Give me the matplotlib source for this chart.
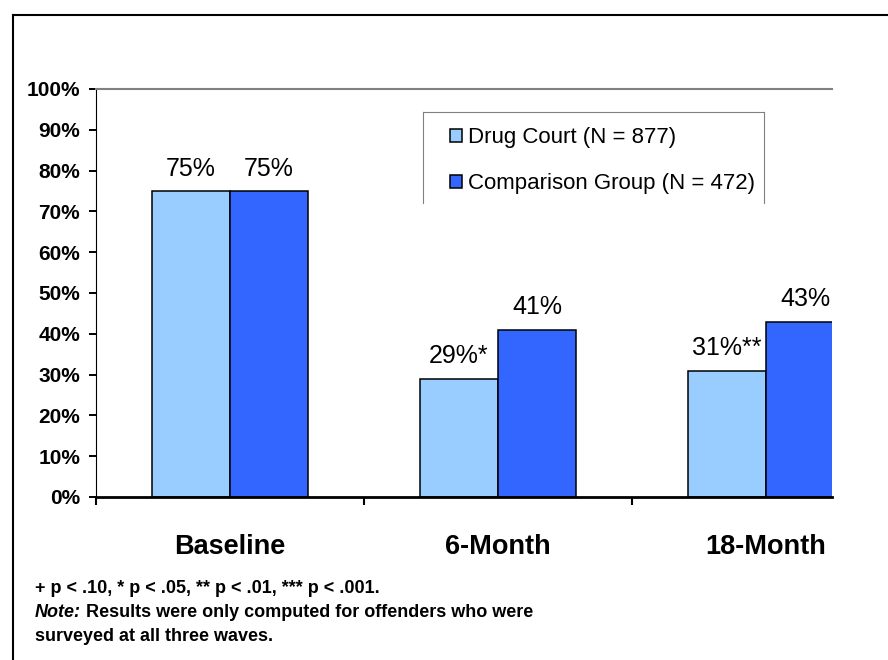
import matplotlib
matplotlib.use("Agg")
import matplotlib.pyplot as plt
from matplotlib.lines import Line2D
import numpy as np

plt.rcParams['font.family'] = ['Liberation Sans', 'DejaVu Sans']

# Data
waves = ["Baseline", "6-Month", "18-Month"]
drug_court = [75, 29, 31]
comparison = [75, 41, 43]
significance = ["", "*", "**"]
series_names = ["Drug Court (N = 877)", "Comparison Group (N = 472)"]
y_ticks = [0, 10, 20, 30, 40, 50, 60, 70, 80, 90, 100]
footnotes = [
    "+ p < .10, * p < .05, ** p < .01, *** p < .001.",
    "Note:",
    "Results were only computed for offenders who were",
    "surveyed at all three waves.",
]

W, H = 888, 660
fig = plt.figure(figsize=(W / 100, H / 100), dpi=100)
fig.patch.set_facecolor("white")


def fx(px):
    return px / W


def fy(py):
    return 1 - py / H


# Plot area
ax = fig.add_axes([fx(96), fy(497), fx(832 - 96), (497 - 89) / H])

light = "#99CCFF"
dark = "#3366FF"
bw = 0.291
x = np.arange(len(waves))

b1 = ax.bar(x - bw / 2, drug_court, bw, color=light, edgecolor="black", linewidth=1.1, zorder=2)
b2 = ax.bar(x + bw / 2, comparison, bw, color=dark, edgecolor="black", linewidth=1.1, zorder=2)

for xi, v, s in zip(x, drug_court, significance):
    ax.annotate(f"{v}%{s}", (xi - bw / 2, v), xytext=(0, 11), textcoords="offset points",
                ha="center", va="baseline", fontsize=18, annotation_clip=False)
for xi, v in zip(x, comparison):
    ax.annotate(f"{v}%", (xi + bw / 2, v), xytext=(0, 11), textcoords="offset points",
                ha="center", va="baseline", fontsize=18, annotation_clip=False)

ax.set_xlim(-0.5, 2.246)
ax.set_ylim(0, 100)

ax.set_yticks(y_ticks)
ax.set_yticklabels([f"{t}%" for t in y_ticks], fontsize=15, fontweight="bold")
ax.tick_params(axis="y", direction="out", length=5, width=1.4, color="black", pad=6.5)

ax.set_xticks(x)
ax.set_xticklabels(waves, fontsize=19.5, fontweight="bold")
ax.set_xticks([-0.5, 0.5, 1.5], minor=True)
ax.tick_params(axis="x", which="major", length=0, pad=27)
ax.tick_params(axis="x", which="minor", direction="out", length=6, width=1.5, color="black")

ax.spines["right"].set_visible(False)
ax.spines["top"].set_color("#808080")
ax.spines["top"].set_linewidth(1.5)
ax.spines["left"].set_color("black")
ax.spines["left"].set_linewidth(0.8)
ax.spines["bottom"].set_color("black")
ax.spines["bottom"].set_linewidth(2.0)
ax.spines["bottom"].set_zorder(3)

# Legend
leg = ax.legend(handles=[b1, b2], labels=series_names, loc="upper left",
                bbox_to_anchor=(fx(439), fy(116)), bbox_transform=fig.transFigure,
                frameon=False, borderpad=0, fontsize=16, handlelength=0.55,
                handleheight=0.55, handletextpad=0.27, labelspacing=1.13)

# Legend box (open at the bottom)
lg = "#808080"
fig.add_artist(Line2D([fx(423), fx(423)], [fy(112), fy(203)], color=lg, lw=0.8, transform=fig.transFigure))
fig.add_artist(Line2D([fx(764), fx(764)], [fy(112), fy(203)], color=lg, lw=0.8, transform=fig.transFigure))
fig.add_artist(Line2D([fx(423), fx(764)], [fy(112), fy(112)], color=lg, lw=0.8, transform=fig.transFigure))

# Outer frame
fig.add_artist(Line2D([fx(13), fx(13)], [fy(15), 0], color="black", lw=1.5, transform=fig.transFigure))
fig.add_artist(Line2D([fx(13), 1], [fy(15), fy(15)], color="black", lw=1.5, transform=fig.transFigure))

# Footnotes
fs_note = 13
fig.text(fx(35), fy(593), footnotes[0], fontsize=fs_note, fontweight="bold", va="baseline")
note = fig.text(fx(35), fy(617), footnotes[1], fontsize=fs_note, fontweight="bold",
                fontstyle="italic", va="baseline")
ax.annotate(footnotes[2], xy=(1, 0), xycoords=note, xytext=(3.5, 0),
            textcoords="offset points", ha="left", va="bottom",
            fontsize=fs_note, fontweight="bold", annotation_clip=False)
fig.text(fx(35), fy(641), footnotes[3], fontsize=fs_note, fontweight="bold", va="baseline")

fig.savefig("out.png", dpi=100, facecolor="white")
